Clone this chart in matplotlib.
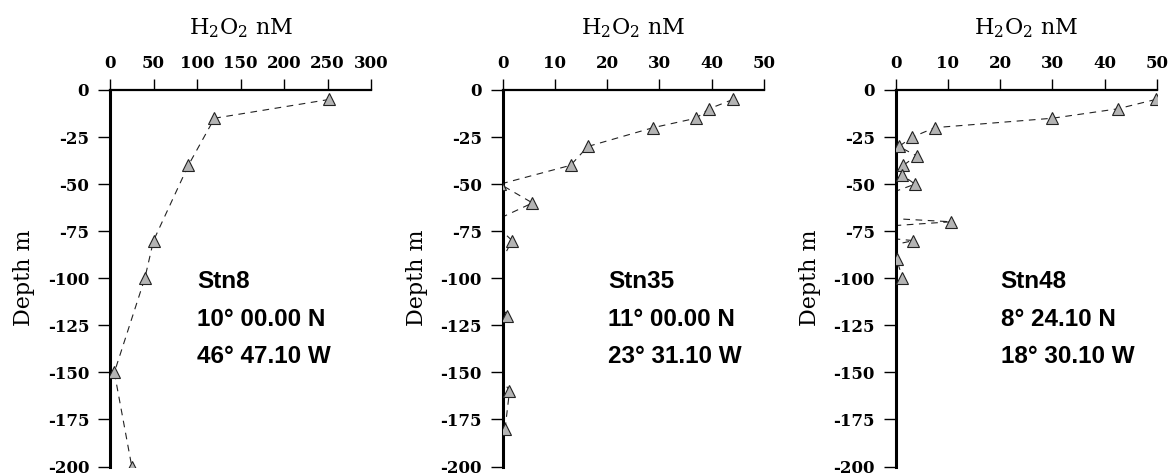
import os
import matplotlib
matplotlib.use('Agg')
import matplotlib.pyplot as plt
from matplotlib import font_manager as fm

plt.rcParams['axes.unicode_minus'] = False
plt.rcParams['mathtext.fontset'] = 'dejavuserif'

# ---- data ----
stations = ['Stn8', 'Stn35', 'Stn48']
lat_labels = ['10° 00.00 N', '11° 00.00 N', '8° 24.10 N']
lon_labels = ['46° 47.10 W', '23° 31.10 W', '18° 30.10 W']

stn8_h2o2 = [252, 120, 90, 50, 40, 5, 25]
stn8_depth = [-5, -15, -40, -80, -100, -150, -200]

stn35_h2o2 = [44.1, 39.5, 37, 28.8, 16.3, 13, -0.5, 5.7, -2, 1.8, -2, 0.8, -3, 1.3, 0.45]
stn35_depth = [-5, -10, -15, -20, -30, -40, -50, -60, -70, -80, -100, -120, -140, -160, -180]

stn48_h2o2 = [49.8, 42.5, 30, 7.5, 3.2, 0.6, 4, 1.45, 1.15, 3.7, -1.2, -10, -22, 10.6, -16, 3.4, -5, 0.2, 1.3]
stn48_depth = [-5, -10, -15, -20, -25, -30, -35, -40, -45, -50, -55, -60, -65, -70, -75, -80, -85, -90, -100]

xticks_list = [[0, 50, 100, 150, 200, 250, 300], [0, 10, 20, 30, 40, 50], [0, 10, 20, 30, 40, 50]]
yticks = [0, -25, -50, -75, -100, -125, -150, -175, -200]

series = [(stn8_h2o2, stn8_depth), (stn35_h2o2, stn35_depth), (stn48_h2o2, stn48_depth)]
xlims = [(0, 300), (0, 50), (0, 50)]
text_x = [0.333, 0.404, 0.402]

# bold sans font (Arial-like, regular width)
sans_path = None
for f in fm.findSystemFonts():
    if os.path.basename(f).lower() == 'liberationsans-bold.ttf':
        sans_path = f
        break
if sans_path:
    stn_font = fm.FontProperties(fname=sans_path, size=17.5)
else:
    stn_font = fm.FontProperties(family='DejaVu Sans', weight='bold', size=16)

W, H = 1169, 475
fig = plt.figure(figsize=(W / 100, H / 100), dpi=100)
lefts = [110, 502.7, 895.7]
ax_w = 261.2
top, bottom = 90, 466.5

serif = 'DejaVu Serif'
for i in range(3):
    ax = fig.add_axes([lefts[i] / W, 1 - bottom / H, ax_w / W, (bottom - top) / H])
    x, y = series[i]
    ax.plot(x, y, linestyle=(0, (6, 5)), color='#222222', lw=0.8, zorder=2)
    ax.plot(x, y, linestyle='none', marker='^', markersize=8.5,
            markerfacecolor='#b4b4b4', markeredgecolor='#222222', markeredgewidth=0.8, zorder=3)
    ax.set_xlim(*xlims[i])
    ax.set_ylim(-200, 0)
    ax.set_xticks(xticks_list[i])
    ax.set_yticks(yticks)
    ax.set_xticklabels([str(v) for v in xticks_list[i]], fontfamily=serif, fontweight='bold', fontsize=12)
    ax.set_yticklabels([str(v) for v in yticks], fontfamily=serif, fontweight='bold', fontsize=12)
    ax.xaxis.tick_top()
    ax.xaxis.set_label_position('top')
    ax.tick_params(axis='x', direction='out', length=8, width=1.0, pad=5, colors='black')
    ax.tick_params(axis='y', direction='out', length=9, width=1.0, pad=6, colors='black')
    for s in ['right', 'bottom']:
        ax.spines[s].set_visible(False)
    ax.spines['top'].set_linewidth(1.6)
    ax.spines['left'].set_linewidth(2.2)
    ax.set_xlabel(r'H$_2$O$_2$ nM', fontfamily=serif, fontsize=16, labelpad=15)
    ax.set_ylabel('Depth m', fontfamily=serif, fontsize=16, labelpad=9)
    ax.patch.set_alpha(0)
    for k, t in enumerate([stations[i], lat_labels[i], lon_labels[i]]):
        ax.text(text_x[i], 0.473 - k * 0.0985, t, transform=ax.transAxes,
                fontproperties=stn_font, ha='left', va='baseline', color='black')

fig.savefig('out.png', dpi=100)
